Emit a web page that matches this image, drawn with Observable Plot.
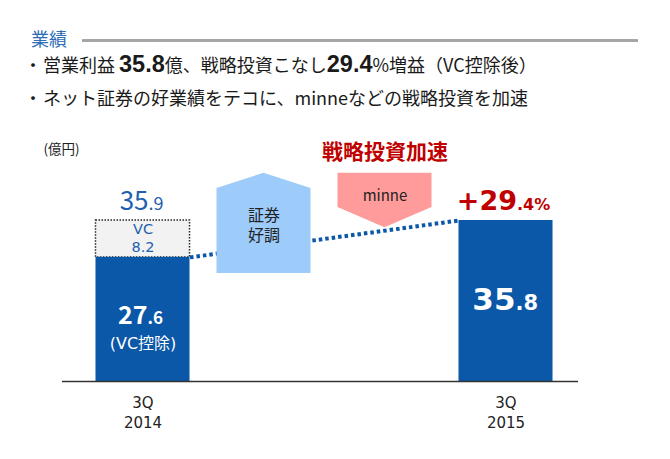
<!DOCTYPE html>
<html><head><meta charset="utf-8">
<script src="https://cdn.jsdelivr.net/npm/d3@7"></script>
<script src="https://cdn.jsdelivr.net/npm/@observablehq/plot@0.6"></script>
<style>
body{margin:0;background:#fff;width:670px;height:459px;overflow:hidden;font-family:"Noto Sans CJK JP",sans-serif;color:#1a1a1a;}
#header{position:relative;height:120px;}
#sec{position:absolute;left:31px;top:27px;font-size:18px;line-height:22px;color:#2F6DB5;}
#rule{position:absolute;left:82px;top:38.5px;width:556px;height:3px;background:#A6A6A6;}
.dot{position:absolute;left:24px;font-size:18px;line-height:24px;}
.line{position:absolute;left:43px;font-size:18px;line-height:24px;white-space:nowrap;}
.line b{font-family:"Liberation Sans",Arial,sans-serif;font-size:23.5px;line-height:1;font-weight:bold;}
#chart svg{display:block;}
</style></head><body>
<div id="header">
  <div id="sec">業績</div>
  <div id="rule"></div>
  <div class="dot" style="top:52px">・</div>
  <div class="line" style="top:52px">営業利益 <b>35.8</b>億、戦略投資こなし<b>29.4</b>%増益（VC控除後）</div>
  <div class="dot" style="top:85px">・</div>
  <div class="line" style="top:85px">ネット証券の好業績をテコに、minneなどの戦略投資を加速</div>
</div>
<div id="chart"></div>
<script>
// ---- data ----
const periods = ["3Q\n2014", "3Q\n2015"];
const profitExVC = [27.6, 35.8];      // 営業利益（VC控除後）
const vcAmount = [8.2, 0];            // VC
const profitLabels = ["27.6", "35.8"];
const totalLabels = ["35.9", null];
const vcLabels = ["VC\n8.2", null];
const baseNotes = ["(VC控除)", null];
const growthLabel = "+29.4%";
const callouts = ["証券\n好調", "minne"];
const headline = "戦略投資加速";
const unitLabel = "(億円)";

// ---- layout / style ----
const BLUE = "#0B57A8", TXTBLUE = "#1F5FAF", RED = "#C00000";
const MIXED = "'DejaVu Sans', 'Noto Sans CJK JP', sans-serif";
const HW = 0.1295;                     // bar half width (x units)
const pxPerUnit = 161 / 35.8;
const splitNum = s => { const k = s.indexOf("."); return [s.slice(0, k), s.slice(k)]; };

// multi-line text as one text mark per line, spaced by lh pixels
function textLines(data, textFn, lh, opts) {
  const n = d3.max(data, d => textFn(d).split("\n").length);
  return d3.range(n).map(k => Plot.text(data, {
    ...opts,
    text: d => textFn(d).split("\n")[k] ?? "",
    dy: (opts.dy ?? 0) + (k - (n - 1) / 2) * lh
  }));
}

const bars = [];
periods.forEach((p, i) => {
  bars.push({i, y1: 0, y2: profitExVC[i], kind: "base"});
  if (vcAmount[i]) bars.push({i, y1: profitExVC[i], y2: profitExVC[i] + vcAmount[i], kind: "vc"});
});
const totals = periods.map((p, i) => ({i, top: profitExVC[i] + vcAmount[i], label: totalLabels[i]})).filter(d => d.label);
const vcSeg = bars.filter(d => d.kind === "vc").map(d => ({...d, label: vcLabels[d.i]}));
const baseSeg = bars.filter(d => d.kind === "base").map(d => ({...d, label: profitLabels[d.i], note: baseNotes[d.i]}));

// callout arrows between the bars
const upArrow = [[-1, 24.0, 42.9], [0, 24.0, 46.3], [1, 24.0, 42.9]].map(([s, a, b]) => ({x: 1/3 + s*HW, y1: a, y2: b}));
const downArrow = [[-1, 46.3, 38.7], [0, 46.3, 34.2], [1, 46.3, 38.7]].map(([s, a, b]) => ({x: 2/3 + s*HW, y1: a, y2: b}));
const connector = [{x: 0 + HW, y: profitExVC[0]}, {x: 1 - HW, y: profitExVC[1]}];

const chart = Plot.plot({
  width: 670, height: 339,
  marginLeft: 62, marginRight: 92, marginTop: 0, marginBottom: 78,
  style: {fontFamily: "'Noto Sans CJK JP', sans-serif", overflow: "visible", background: "transparent"},
  x: {type: "linear", domain: [0, 1], range: [142.5, 505.5], axis: null},
  y: {domain: [0, 40], range: [261, 261 - 40 * pxPerUnit], axis: null},
  marks: [
    Plot.line(connector, {x: "x", y: "y", stroke: BLUE, strokeWidth: 4, strokeDasharray: "3.5,3", strokeLinecap: "butt"}),
    Plot.areaY(upArrow, {x: "x", y1: "y1", y2: "y2", fill: "#9DCBFA"}),
    Plot.areaY(downArrow, {x: "x", y1: "y1", y2: "y2", fill: "#FF9B9B"}),
    Plot.rect(vcSeg, {x1: d => d.i - HW, x2: d => d.i + HW, y1: "y1", y2: "y2", fill: "#F2F2F2", stroke: "#222", strokeWidth: 1.5, strokeDasharray: "1.5,1.5"}),
    Plot.rect(baseSeg, {x1: d => d.i - HW, x2: d => d.i + HW, y1: "y1", y2: "y2", fill: BLUE}),
    Plot.ruleY([0], {stroke: "#333", strokeWidth: 1.5}),
    Plot.axisX([0, 1], {tickFormat: i => periods[i].split("\n")[0], tickSize: 0, tickPadding: 16, fontSize: 15, fontFamily: "DejaVu Sans", fill: "#222", label: null}),
    Plot.axisX([0, 1], {tickFormat: i => periods[i].split("\n")[1], tickSize: 0, tickPadding: 36, fontSize: 15, fontFamily: "DejaVu Sans", fill: "#222", label: null}),
    // unit
    Plot.text([unitLabel], {frameAnchor: "top-left", text: d => d, dx: -19, dy: 24, textAnchor: "start", fontSize: 13.5, fill: "#222"}),
    // totals above left bar
    Plot.text(totals, {x: "i", y: "top", text: d => splitNum(d.label)[0], textAnchor: "end", lineAnchor: "bottom", dx: 5.5, dy: -11, fontSize: 26, fill: TXTBLUE}),
    Plot.text(totals, {x: "i", y: "top", text: d => splitNum(d.label)[1], textAnchor: "start", lineAnchor: "bottom", dx: 5.5, dy: -11, fontSize: 18, fill: TXTBLUE}),
    // VC segment label
    ...textLines(vcSeg, d => d.label, 18, {x: "i", y: d => (d.y1 + d.y2) / 2, dy: -1, fontSize: 14.5, fontFamily: "DejaVu Sans", fill: TXTBLUE}),
    // base labels (left)
    Plot.text(baseSeg.filter(d => d.i === 0), {x: "i", y: d => d.y2 / 2, text: d => splitNum(d.label)[0], textAnchor: "end", lineAnchor: "bottom", dx: 4.5, dy: 5, fontSize: 25, fontWeight: "bold", fill: "white"}),
    Plot.text(baseSeg.filter(d => d.i === 0), {x: "i", y: d => d.y2 / 2, text: d => splitNum(d.label)[1], textAnchor: "start", lineAnchor: "bottom", dx: 4.5, dy: 5, fontSize: 17, fontWeight: "bold", fill: "white"}),
    Plot.text(baseSeg.filter(d => d.note), {x: "i", y: d => d.y2 / 2, text: "note", dy: 24, fontSize: 16, fontFamily: MIXED, fill: "white"}),
    // base labels (right)
    Plot.text(baseSeg.filter(d => d.i === 1), {x: "i", y: d => d.y2 / 2, text: d => splitNum(d.label)[0], textAnchor: "end", lineAnchor: "bottom", dx: 9.5, dy: 8.5, fontSize: 31, fontWeight: "bold", fontFamily: "DejaVu Sans", fill: "white"}),
    Plot.text(baseSeg.filter(d => d.i === 1), {x: "i", y: d => d.y2 / 2, text: d => splitNum(d.label)[1], textAnchor: "start", lineAnchor: "bottom", dx: 9.5, dy: 8.5, fontSize: 21, fontWeight: "bold", fontFamily: "DejaVu Sans", fill: "white"}),
    // growth
    Plot.text([growthLabel], {x: () => 1, y: () => profitExVC[1], text: d => splitNum(d)[0], textAnchor: "end", lineAnchor: "bottom", dx: 11, dy: -11, fontSize: 27, fontWeight: "bold", fontFamily: "DejaVu Sans", fill: RED}),
    Plot.text([growthLabel], {x: () => 1, y: () => profitExVC[1], text: d => splitNum(d)[1], textAnchor: "start", lineAnchor: "bottom", dx: 11, dy: -11, fontSize: 16, fontWeight: "bold", fontFamily: "DejaVu Sans", fill: RED}),
    // callouts
    ...textLines([callouts[0]], d => d, 20, {x: () => 1/3, y: () => 34.5, fontSize: 16, fontFamily: MIXED, fill: "#222"}),
    Plot.text([callouts[1]], {x: () => 2/3, y: () => 41.1, text: d => d, fontSize: 15, fill: "#222"}),
    Plot.text([headline], {x: () => 2/3, y: () => 50.9, text: d => d, fontSize: 21, fontWeight: "bold", fill: RED})
  ]
});
document.getElementById("chart").appendChild(chart);
</script>
</body></html>
